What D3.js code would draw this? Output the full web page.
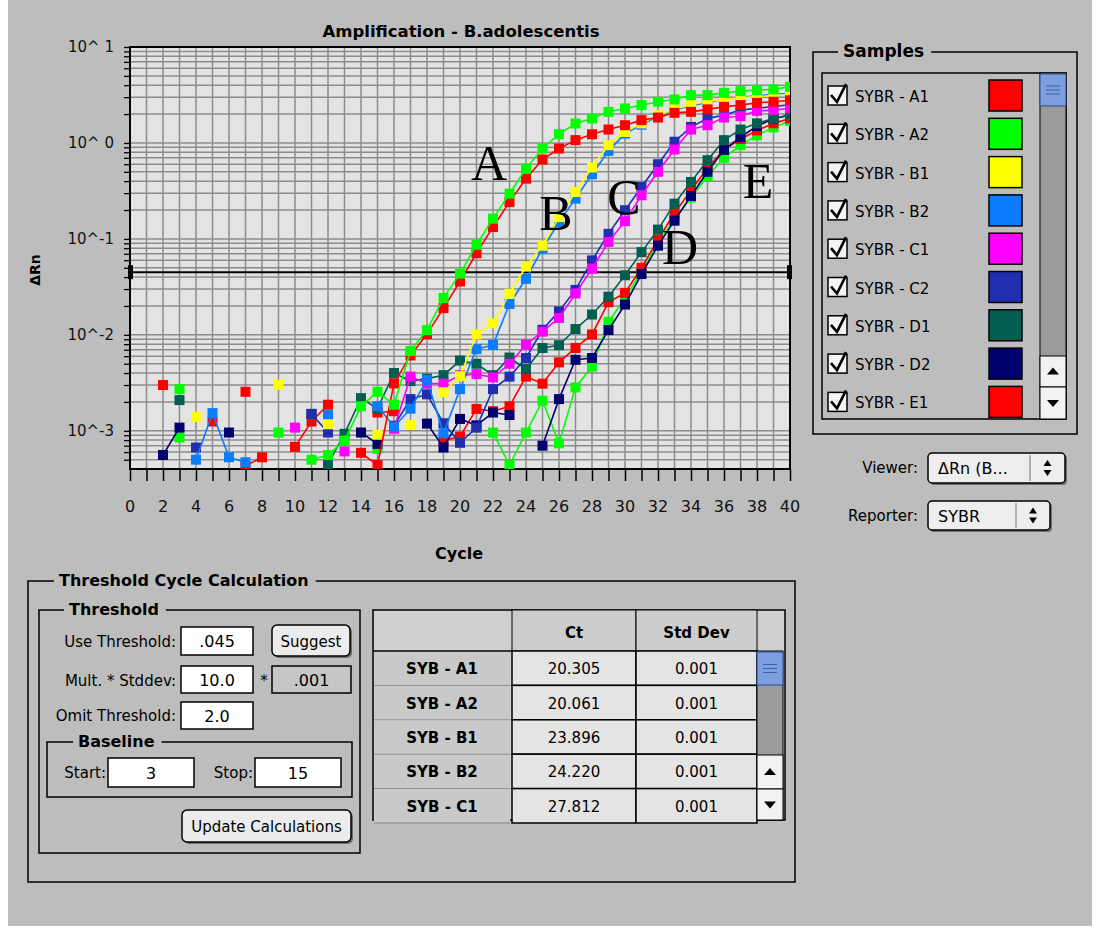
<!DOCTYPE html>
<html>
<head>
<meta charset="utf-8">
<script src="https://cdn.jsdelivr.net/npm/d3@7"></script>
<style>
  body { margin: 0; background: #ffffff; }
  svg { display: block; }
  text { font-family: "DejaVu Sans", "Liberation Sans", sans-serif; }
  text.letter { font-family: "Liberation Serif", "DejaVu Serif", serif; }
</style>
</head>
<body>
<svg id="chart" width="1098" height="933"></svg>
<script>
// ---- data -------------------------------------------------------------
const cycles = d3.range(1, 41);
const xTickLabels = d3.range(0, 41, 2);
const yTickValues = [1e-3, 1e-2, 1e-1, 1, 10];
const yTickLabels = ["10^-3", "10^-2", "10^-1", "10^ 0", "10^ 1"];
const threshold = 0.045;

const sampleNames = ["SYBR - A1", "SYBR - A2", "SYBR - B1", "SYBR - B2", "SYBR - C1",
                     "SYBR - C2", "SYBR - D1", "SYBR - D2", "SYBR - E1", "SYBR - E2"];
const sampleColors = ["#ff0000", "#00ff00", "#ffff00", "#0a7dff", "#ff00ff",
                      "#1f2fb0", "#005f50", "#00006e", "#ff0000", "#00ff00"];

// ΔRn per cycle (1..40); null where the reading falls off the log axis
const seriesA1 = [null, 0.0030, null, null, null, null, 0.00255, null, null, null,
  null, null, null, 0.00059, 0.00044, 0.00312, 0.0061, 0.0102, 0.019, 0.036,
  0.071, 0.133, 0.242, 0.425, 0.672, 0.875, 1.07, 1.23, 1.38, 1.53,
  1.73, 1.84, 2.06, 2.11, 2.24, 2.38, 2.48, 2.62, 2.69, 2.79];
const seriesA2 = [null, null, 0.00272, null, null, null, null, null, 0.00096, null,
  0.0005, 0.00056, 0.00079, 0.0018, 0.00255, 0.00187, 0.0068, 0.0112, 0.0243, 0.0435,
  0.0869, 0.1625, 0.296, 0.541, 0.875, 1.234, 1.596, 1.80, 2.11, 2.29,
  2.48, 2.69, 2.84, 3.15, 3.15, 3.33, 3.47, 3.55, 3.62, 3.85];
const seriesB1 = [null, null, null, 0.0014, null, null, null, null, 0.0030, null,
  null, 0.00117, null, null, 0.00091, null, 0.00115, null, 0.00252, 0.0037,
  0.0101, 0.0132, 0.0268, 0.0516, 0.085, 0.169, 0.308, 0.555, 0.948, 1.3,
  1.6, 1.95, 2.25, 2.5, 2.7, 2.85, 2.95, 3.05, 3.1, 3.2];
const seriesB2 = [null, null, null, 0.0005, 0.00153, 0.00053, 0.00047, null, null, null,
  null, 0.00146, null, null, 0.0018, 0.0011, 0.0017, 0.0034, 0.00094, 0.00272,
  0.0071, 0.00785, 0.021, 0.0384, 0.079, 0.15, 0.263, 0.472, 0.826, 1.25,
  1.55, 1.9, 2.2, 2.45, 2.65, 2.85, 3.0, 3.1, 3.2, 3.3];
const seriesC1 = [null, null, null, null, null, null, null, null, null, 0.00108,
  null, null, 0.00061, null, null, 0.00105, 0.00367, 0.0031, 0.0031, 0.0038,
  0.0039, 0.0036, 0.0050, 0.0079, 0.0108, 0.015, 0.027, 0.049, 0.093, 0.153,
  0.285, 0.50, 0.855, 1.38, 1.53, 1.84, 1.9, 2.16, 2.2, 2.3];
const seriesC2 = [null, null, null, 0.00067, null, null, null, null, null, null,
  0.0015, 0.00096, null, null, null, 0.00113, 0.00214, 0.0024, 0.0012, 0.00075,
  0.00108, 0.00272, 0.00367, 0.00574, 0.0113, 0.0176, 0.0294, 0.0597, 0.113, 0.199,
  0.348, 0.60, 1.03, 1.47, 1.80, 1.95, 2.2, 2.3, 2.4, 2.5];
const seriesD1 = [null, null, 0.00209, null, null, null, null, null, null, null,
  null, 0.00045, 0.00093, 0.00219, 0.0017, 0.0040, 0.0033, 0.0035, 0.0038, 0.0054,
  0.005, 0.0038, 0.0058, 0.0044, 0.0073, 0.0078, 0.0115, 0.0163, 0.025, 0.0418,
  0.0728, 0.125, 0.233, 0.392, 0.66, 1.07, 1.38, 1.6, 1.8, 1.95];
const seriesD2 = [null, 0.00056, 0.00108, null, null, 0.00096, null, null, null, null,
  0.0015, null, null, 0.00096, 0.00073, null, null, 0.00119, 0.00067, 0.00133,
  0.00114, 0.00155, 0.00146, null, 0.0007, 0.00214, 0.0055, 0.00574, 0.0112, 0.0207,
  0.043, 0.085, 0.155, 0.28, 0.5, 0.85, 1.15, 1.5, 1.8, 1.95];
const seriesE1 = [null, null, null, null, 0.00125, null, 0.00043, 0.00053, null, 0.00068,
  0.00125, 0.00187, null, null, 0.00155, 0.0016, null, null, 0.00079, 0.00087,
  0.00169, 0.0016, 0.0018, 0.00367, 0.0031, 0.00517, 0.0073, 0.0101, 0.0219, 0.0274,
  0.050, 0.098, 0.186, 0.32, 0.55, 0.85, 1.1, 1.35, 1.6, 1.8];
const seriesE2 = [null, null, 0.00085, null, null, null, null, null, null, null,
  null, null, null, null, 0.00065, null, null, null, null, null,
  null, 0.00096, 0.00044, 0.00096, 0.00206, 0.00074, 0.00283, 0.00466, 0.0137, 0.024,
  0.046, 0.09, 0.16, 0.27, 0.45, 0.7, 0.95, 1.2, 1.45, 1.7];

const groupLetters = ["A", "B", "C", "D", "E"];

const wellNames = ["SYB - A1", "SYB - A2", "SYB - B1", "SYB - B2", "SYB - C1"];
const ctValues = ["20.305", "20.061", "23.896", "24.220", "27.812"];
const stdDevValues = ["0.001", "0.001", "0.001", "0.001", "0.001"];

// ---- setup ------------------------------------------------------------
const allSeries = [seriesE2, seriesE1, seriesD2, seriesD1, seriesC2, seriesC1,
                   seriesB2, seriesB1, seriesA1, seriesA2];
const allColors = [sampleColors[9], sampleColors[8], sampleColors[7], sampleColors[6],
                   sampleColors[5], sampleColors[4], sampleColors[3], sampleColors[2],
                   sampleColors[0], sampleColors[1]];

const svg = d3.select("#chart");
const GRAY = "#bdbdbd";

svg.append("rect").attr("x", 8).attr("y", 0).attr("width", 1084).attr("height", 926)
  .attr("fill", GRAY);

const plot = { left: 130, right: 790, top: 47, bottom: 469 };
const x = d3.scaleLinear().domain([0, 40]).range([plot.left, plot.right]);
const y = d3.scaleLog().domain([4e-4, 10]).range([plot.bottom, plot.top]);

// plot background
svg.append("rect").attr("x", plot.left).attr("y", plot.top)
  .attr("width", plot.right - plot.left).attr("height", plot.bottom - plot.top)
  .attr("fill", "#e3e3e3");

const grid = svg.append("g").attr("stroke", "#8c8c8c").attr("stroke-width", 1.5);
grid.selectAll("line.v").data(d3.range(1, 40)).join("line")
  .attr("x1", d => x(d)).attr("x2", d => x(d))
  .attr("y1", plot.top).attr("y2", plot.bottom);
const logTicks = y.ticks(40).filter(v => v > 4e-4 && v < 10);
grid.selectAll("line.h").data(logTicks).join("line")
  .attr("x1", plot.left).attr("x2", plot.right)
  .attr("y1", d => y(d)).attr("y2", d => y(d));

// axes
const xAxis = d3.axisBottom(x).tickValues(d3.range(0, 41)).tickSize(12).tickFormat("");
svg.append("g").attr("transform", `translate(0,${plot.bottom})`).call(xAxis)
  .call(g => g.select(".domain").remove())
  .call(g => g.selectAll(".tick line").attr("stroke", "#000").attr("stroke-width", 1.5));
svg.append("g").selectAll("text").data(xTickLabels).join("text")
  .attr("x", d => x(d)).attr("y", 512).attr("text-anchor", "middle")
  .attr("font-size", 16).attr("fill", "#111").text(d => d);

const yAxis = d3.axisLeft(y).tickValues(logTicks.concat([10])).tickSize(6).tickFormat("");
svg.append("g").attr("transform", `translate(${plot.left},0)`).call(yAxis)
  .call(g => g.select(".domain").remove())
  .call(g => g.selectAll(".tick line").attr("stroke", "#000").attr("stroke-width", 1.3));
svg.append("g").selectAll("text").data(yTickValues).join("text")
  .attr("x", 114).attr("y", d => y(d) + 5).attr("text-anchor", "end")
  .attr("font-size", 15).attr("fill", "#111").text((d, i) => yTickLabels[i]);

// frame
svg.append("rect").attr("x", plot.left).attr("y", plot.top)
  .attr("width", plot.right - plot.left).attr("height", plot.bottom - plot.top)
  .attr("fill", "none").attr("stroke", "#000").attr("stroke-width", 2);

svg.append("text").attr("x", 461).attr("y", 37).attr("text-anchor", "middle")
  .attr("font-size", 16.5).attr("font-weight", "bold").text("Amplification - B.adolescentis");
svg.append("text").attr("x", 459).attr("y", 559).attr("text-anchor", "middle")
  .attr("font-size", 16).attr("font-weight", "bold").text("Cycle");
svg.append("text").attr("transform", "translate(40,270) rotate(-90)")
  .attr("text-anchor", "middle").attr("font-size", 14).attr("font-weight", "bold").text("ΔRn");

// threshold line
svg.append("line").attr("x1", plot.left).attr("x2", plot.right)
  .attr("y1", y(threshold)).attr("y2", y(threshold))
  .attr("stroke", "#000").attr("stroke-width", 2);
[plot.left - 2, plot.right - 3].forEach(hx => {
  svg.append("rect").attr("x", hx).attr("y", y(threshold) - 7).attr("width", 5)
    .attr("height", 14).attr("fill", "#000");
});

// amplification curves
svg.append("clipPath").attr("id", "plotClip").append("rect")
  .attr("x", plot.left).attr("y", plot.top)
  .attr("width", plot.right - plot.left).attr("height", plot.bottom - plot.top);
const curves = svg.append("g").attr("clip-path", "url(#plotClip)");
const line = d3.line()
  .defined(d => d.v !== null)
  .x(d => x(d.c)).y(d => y(d.v));

allSeries.forEach((vals, i) => {
  const pts = cycles.map((c, k) => ({ c, v: vals[k] }));
  const g = curves.append("g");
  g.append("path").datum(pts).attr("d", line).attr("fill", "none")
    .attr("stroke", allColors[i]).attr("stroke-width", 1.6);
  g.selectAll("rect").data(pts.filter(p => p.v !== null)).join("rect")
    .attr("x", p => x(p.c) - 5).attr("y", p => y(p.v) - 5)
    .attr("width", 10).attr("height", 10).attr("fill", allColors[i]);
});

// group letters
const letterPos = [[489, 180], [556, 230], [624, 214], [680, 264], [758, 198]];
svg.append("g").selectAll("text").data(groupLetters).join("text")
  .attr("class", "letter")
  .attr("x", (d, i) => letterPos[i][0]).attr("y", (d, i) => letterPos[i][1])
  .attr("text-anchor", "middle")
  .attr("font-size", 50).attr("fill", "#000").text(d => d);

// ---- widgets ------------------------------------------------------------
function groupBox(x0, y0, w, h, title, tx, size) {
  svg.append("rect").attr("x", x0).attr("y", y0).attr("width", w).attr("height", h)
    .attr("fill", "none").attr("stroke", "#000").attr("stroke-width", 1.5);
  const t = svg.append("text").attr("x", tx).attr("y", y0 + 5)
    .attr("font-size", size).attr("font-weight", "bold").text(title);
  const len = t.node().getComputedTextLength();
  svg.insert("rect", () => t.node()).attr("x", tx - 5).attr("y", y0 - 4)
    .attr("width", len + 12).attr("height", 8).attr("fill", GRAY);
}
function field(x0, y0, w, h, txt, fill) {
  svg.append("rect").attr("x", x0).attr("y", y0).attr("width", w).attr("height", h)
    .attr("fill", fill || "#fff").attr("stroke", "#000").attr("stroke-width", 1.5);
  svg.append("text").attr("x", x0 + w / 2).attr("y", y0 + h / 2 + 6)
    .attr("text-anchor", "middle").attr("font-size", 16).text(txt);
}
function label(xr, yc, txt) {
  svg.append("text").attr("x", xr).attr("y", yc + 6).attr("text-anchor", "end")
    .attr("font-size", 15).text(txt);
}
function button(x0, y0, w, h, txt) {
  svg.append("rect").attr("x", x0 + 2).attr("y", y0 + 2).attr("width", w).attr("height", h)
    .attr("rx", 5).attr("fill", "#6e6e6e");
  svg.append("rect").attr("x", x0).attr("y", y0).attr("width", w).attr("height", h)
    .attr("rx", 5).attr("fill", "#ececec").attr("stroke", "#000").attr("stroke-width", 1.5);
  svg.append("text").attr("x", x0 + w / 2).attr("y", y0 + h / 2 + 6)
    .attr("text-anchor", "middle").attr("font-size", 15).text(txt);
}
function updown(cx, cy) {
  svg.append("path").attr("d", `M${cx - 4},${cy - 2}L${cx + 4},${cy - 2}L${cx},${cy - 8}Z`).attr("fill", "#000");
  svg.append("path").attr("d", `M${cx - 4},${cy + 2}L${cx + 4},${cy + 2}L${cx},${cy + 8}Z`).attr("fill", "#000");
}
function popup(x0, y0, w, h, txt, div) {
  svg.append("rect").attr("x", x0 + 2).attr("y", y0 + 2).attr("width", w).attr("height", h)
    .attr("rx", 4).attr("fill", "#6e6e6e");
  svg.append("rect").attr("x", x0).attr("y", y0).attr("width", w).attr("height", h)
    .attr("rx", 4).attr("fill", "#eeeeee").attr("stroke", "#000").attr("stroke-width", 1.5);
  svg.append("line").attr("x1", x0 + div).attr("x2", x0 + div).attr("y1", y0 + 2).attr("y2", y0 + h - 2)
    .attr("stroke", "#9a9a9a").attr("stroke-width", 1.5);
  svg.append("text").attr("x", x0 + 10).attr("y", y0 + h / 2 + 6).attr("font-size", 16).text(txt);
  updown(x0 + div + (w - div) / 2, y0 + h / 2);
}
function arrowBox(x0, y0, w, h, up) {
  svg.append("rect").attr("x", x0).attr("y", y0).attr("width", w).attr("height", h)
    .attr("fill", "#f2f2f2").attr("stroke", "#000").attr("stroke-width", 1);
  const cx = x0 + w / 2, cy = y0 + h / 2;
  const d = up ? `M${cx - 6},${cy + 3}L${cx + 6},${cy + 3}L${cx},${cy - 4}Z`
               : `M${cx - 6},${cy - 3}L${cx + 6},${cy - 3}L${cx},${cy + 4}Z`;
  svg.append("path").attr("d", d).attr("fill", "#000");
}
function thumb(x0, y0, w, h) {
  svg.append("rect").attr("x", x0).attr("y", y0).attr("width", w).attr("height", h)
    .attr("fill", "#7d9fe0").attr("stroke", "#2c4a8c").attr("stroke-width", 1);
  [-4, 0, 4].forEach(o => svg.append("line").attr("x1", x0 + 6).attr("x2", x0 + w - 6)
    .attr("y1", y0 + h / 2 + o).attr("y2", y0 + h / 2 + o).attr("stroke", "#3d5fa8"));
}

// samples list
groupBox(813, 52, 264, 382, "Samples", 843, 17);
svg.append("rect").attr("x", 822).attr("y", 73).attr("width", 244).attr("height", 346)
  .attr("fill", GRAY).attr("stroke", "#000").attr("stroke-width", 1.5);
const legendRows = sampleNames.slice(0, 9);
legendRows.forEach((name, i) => {
  const cy = 96 + i * 38.3;
  svg.append("rect").attr("x", 828).attr("y", cy - 10).attr("width", 19).attr("height", 19)
    .attr("fill", "#f4f4f4").attr("stroke", "#000").attr("stroke-width", 1.5);
  svg.append("path").attr("d", `M831,${cy - 1}L837,${cy + 6}L846,${cy - 12}`)
    .attr("fill", "none").attr("stroke", "#000").attr("stroke-width", 2.6);
  svg.append("text").attr("x", 855).attr("y", cy + 6).attr("font-size", 15).text(name);
  svg.append("rect").attr("x", 989).attr("y", cy - 16).attr("width", 33).attr("height", 31)
    .attr("fill", sampleColors[i]).attr("stroke", "#000").attr("stroke-width", 1.5);
});
svg.append("rect").attr("x", 1040).attr("y", 73).attr("width", 26).attr("height", 346)
  .attr("fill", "#9b9b9b").attr("stroke", "#000").attr("stroke-width", 1);
thumb(1040, 74, 26, 32);
arrowBox(1040, 356, 26, 31, true);
arrowBox(1040, 387, 26, 32, false);

label(918, 467, "Viewer:");
popup(928, 453, 137, 30, "ΔRn (B...", 102);
label(918, 515, "Reporter:");
popup(928, 501, 122, 29, "SYBR", 88);

// threshold cycle calculation panel
groupBox(28, 581, 767, 301, "Threshold Cycle Calculation", 59, 16);
groupBox(39, 610, 321, 243, "Threshold", 69, 16);
label(176, 641, "Use Threshold:");
field(181, 627, 72, 28, ".045");
button(272, 625, 78, 31, "Suggest");
label(176, 680, "Mult. * Stddev:");
field(181, 666, 72, 27, "10.0");
svg.append("text").attr("x", 264).attr("y", 686).attr("text-anchor", "middle").attr("font-size", 15).text("*");
field(272, 666, 79, 27, ".001", "#c6c6c6");
label(176, 715, "Omit Threshold:");
field(181, 702, 72, 27, "2.0");
groupBox(47, 742, 305, 55, "Baseline", 78, 16);
label(106, 772, "Start:");
field(108, 758, 86, 29, "3");
label(253, 772, "Stop:");
field(255, 758, 86, 29, "15");
button(182, 810, 169, 32, "Update Calculations");

// Ct table
const tbl = { x: 373, y: 610, w: 412, h: 210 };
svg.append("rect").attr("x", tbl.x).attr("y", tbl.y).attr("width", tbl.w).attr("height", tbl.h)
  .attr("fill", "#cfcfcf").attr("stroke", "#000").attr("stroke-width", 1.5);
const headerH = 41;
[[512, 636, "Ct"], [636, 757, "Std Dev"]].forEach(([a, b, t]) => {
  svg.append("rect").attr("x", a).attr("y", tbl.y).attr("width", b - a).attr("height", headerH)
    .attr("fill", "#cdcdcd").attr("stroke", "#000").attr("stroke-width", 1);
  svg.append("text").attr("x", (a + b) / 2).attr("y", tbl.y + 28).attr("text-anchor", "middle")
    .attr("font-size", 15).attr("font-weight", "bold").text(t);
});
svg.append("line").attr("x1", 373).attr("x2", 512).attr("y1", tbl.y + headerH).attr("y2", tbl.y + headerH)
  .attr("stroke", "#000").attr("stroke-width", 1.5);
const rowH = 34.4;
wellNames.forEach((w, i) => {
  const ry = tbl.y + headerH + i * rowH;
  svg.append("rect").attr("x", 374).attr("y", ry + 1).attr("width", 136).attr("height", rowH - 2)
    .attr("fill", "#c9c9c9");
  svg.append("line").attr("x1", 374).attr("x2", 510).attr("y1", ry + rowH).attr("y2", ry + rowH)
    .attr("stroke", "#8a8a8a").attr("stroke-width", 1);
  svg.append("text").attr("x", 442).attr("y", ry + rowH / 2 + 6).attr("text-anchor", "middle")
    .attr("font-size", 15).attr("font-weight", "bold").text(w);
  [[512, 636, ctValues[i]], [636, 757, stdDevValues[i]]].forEach(([a, b, t]) => {
    svg.append("rect").attr("x", a).attr("y", ry).attr("width", b - a).attr("height", rowH)
      .attr("fill", "#e4e4e4").attr("stroke", "#000").attr("stroke-width", 1.5);
    svg.append("text").attr("x", (a + b) / 2).attr("y", ry + rowH / 2 + 6).attr("text-anchor", "middle")
      .attr("font-size", 15).text(t);
  });
});
svg.append("rect").attr("x", 757).attr("y", tbl.y + headerH).attr("width", 26).attr("height", 169)
  .attr("fill", "#9b9b9b").attr("stroke", "#000").attr("stroke-width", 1);
thumb(757, tbl.y + headerH + 1, 26, 33);
arrowBox(757, 755, 26, 34, true);
arrowBox(757, 789, 26, 31, false);
</script>
</body>
</html>
